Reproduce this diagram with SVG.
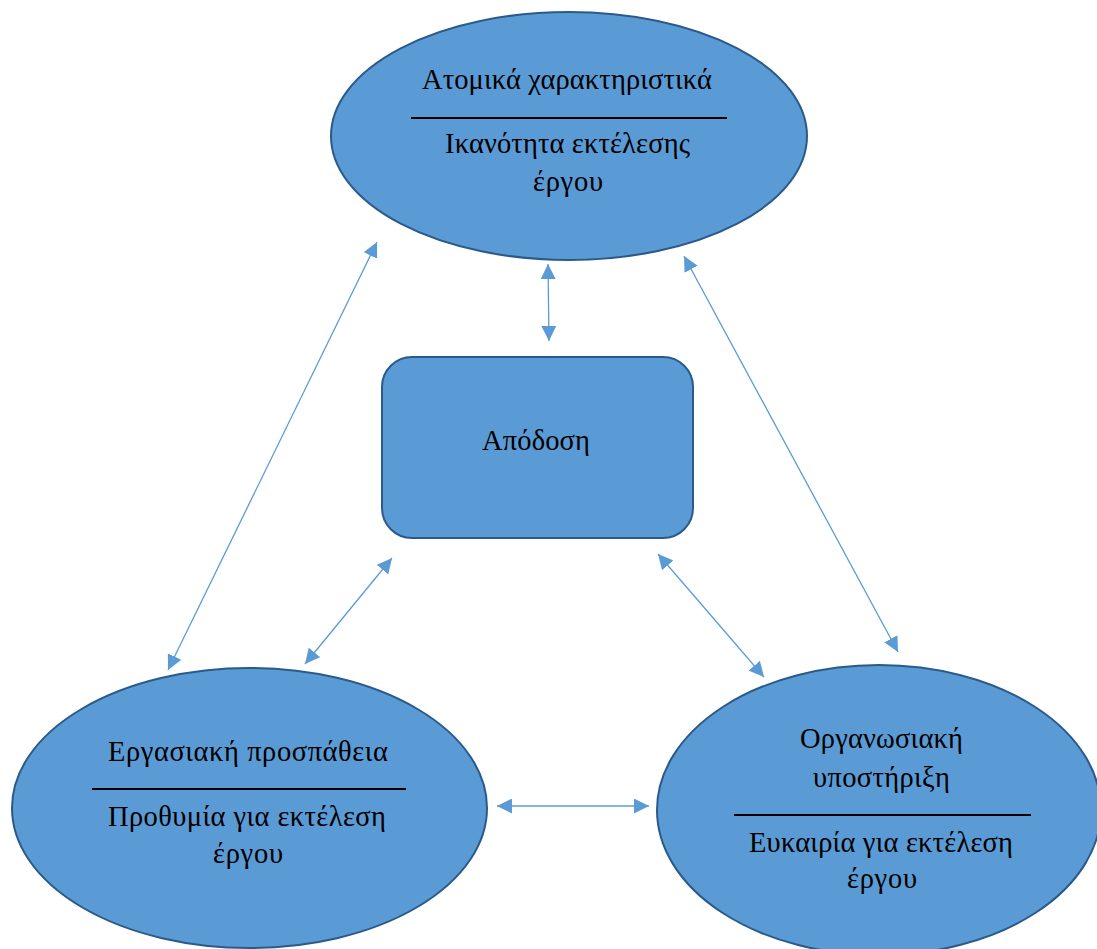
<svg xmlns="http://www.w3.org/2000/svg" width="1097" height="949" viewBox="0 0 1097 949">
<style>
.shape{fill:#5b9bd5;stroke:#2a5a8a;stroke-width:2}
.t{font-family:"Liberation Serif","Times New Roman",serif;font-size:28.5px;fill:#000;text-anchor:middle}
.div{stroke:#000;stroke-width:2}
.conn{stroke:#5b9bd5;stroke-width:1.3;fill:none;marker-start:url(#ah);marker-end:url(#ah)}
</style>
<defs>
<marker id="ah" markerUnits="userSpaceOnUse" markerWidth="16" markerHeight="15" refX="15" refY="7.5" orient="auto-start-reverse" viewBox="0 0 16 15">
<path d="M0,0 L15,7.5 L0,15 z" fill="#5b9bd5"/>
</marker>
</defs>
<rect width="1097" height="949" fill="#fff"/>
<g id="connectors">
<line class="conn" x1="377" y1="242" x2="168" y2="670"/>
<line class="conn" x1="548" y1="264" x2="549" y2="341"/>
<line class="conn" x1="684" y1="256" x2="898" y2="652"/>
<line class="conn" x1="392" y1="558" x2="305" y2="664"/>
<line class="conn" x1="658" y1="554" x2="764" y2="677"/>
<line class="conn" x1="497" y1="806" x2="649" y2="806"/>
</g>
<g id="node-top">
<ellipse class="shape" cx="569" cy="136" rx="238" ry="124"/>
<text class="t" x="567" y="89" textLength="290" lengthAdjust="spacing">Ατομικά χαρακτηριστικά</text>
<line class="div" x1="411" y1="118" x2="727" y2="118"/>
<text class="t" x="567.5" y="153" textLength="245" lengthAdjust="spacing">Ικανότητα εκτέλεσης</text>
<text class="t" x="568" y="191" textLength="70" lengthAdjust="spacing">έργου</text>
</g>
<g id="node-center">
<rect class="shape" x="382" y="357" width="311" height="181" rx="30" ry="30"/>
<text class="t" x="536" y="450" textLength="108" lengthAdjust="spacing">Απόδοση</text>
</g>
<g id="node-left">
<ellipse class="shape" cx="249.5" cy="808" rx="237.5" ry="140"/>
<text class="t" x="248" y="761" textLength="280" lengthAdjust="spacing">Εργασιακή προσπάθεια</text>
<line class="div" x1="92" y1="789" x2="406" y2="789"/>
<text class="t" x="247" y="826" textLength="278" lengthAdjust="spacing">Προθυμία για εκτέλεση</text>
<text class="t" x="248" y="863" textLength="70" lengthAdjust="spacing">έργου</text>
</g>
<g id="node-right">
<ellipse class="shape" cx="879" cy="810" rx="222" ry="145"/>
<text class="t" x="881.5" y="748" textLength="163" lengthAdjust="spacing">Οργανωσιακή</text>
<text class="t" x="881.5" y="787" textLength="137" lengthAdjust="spacing">υποστήριξη</text>
<line class="div" x1="734" y1="815" x2="1031" y2="815"/>
<text class="t" x="881" y="852" textLength="264" lengthAdjust="spacing">Ευκαιρία για εκτέλεση</text>
<text class="t" x="882" y="888" textLength="70" lengthAdjust="spacing">έργου</text>
</g>
</svg>
